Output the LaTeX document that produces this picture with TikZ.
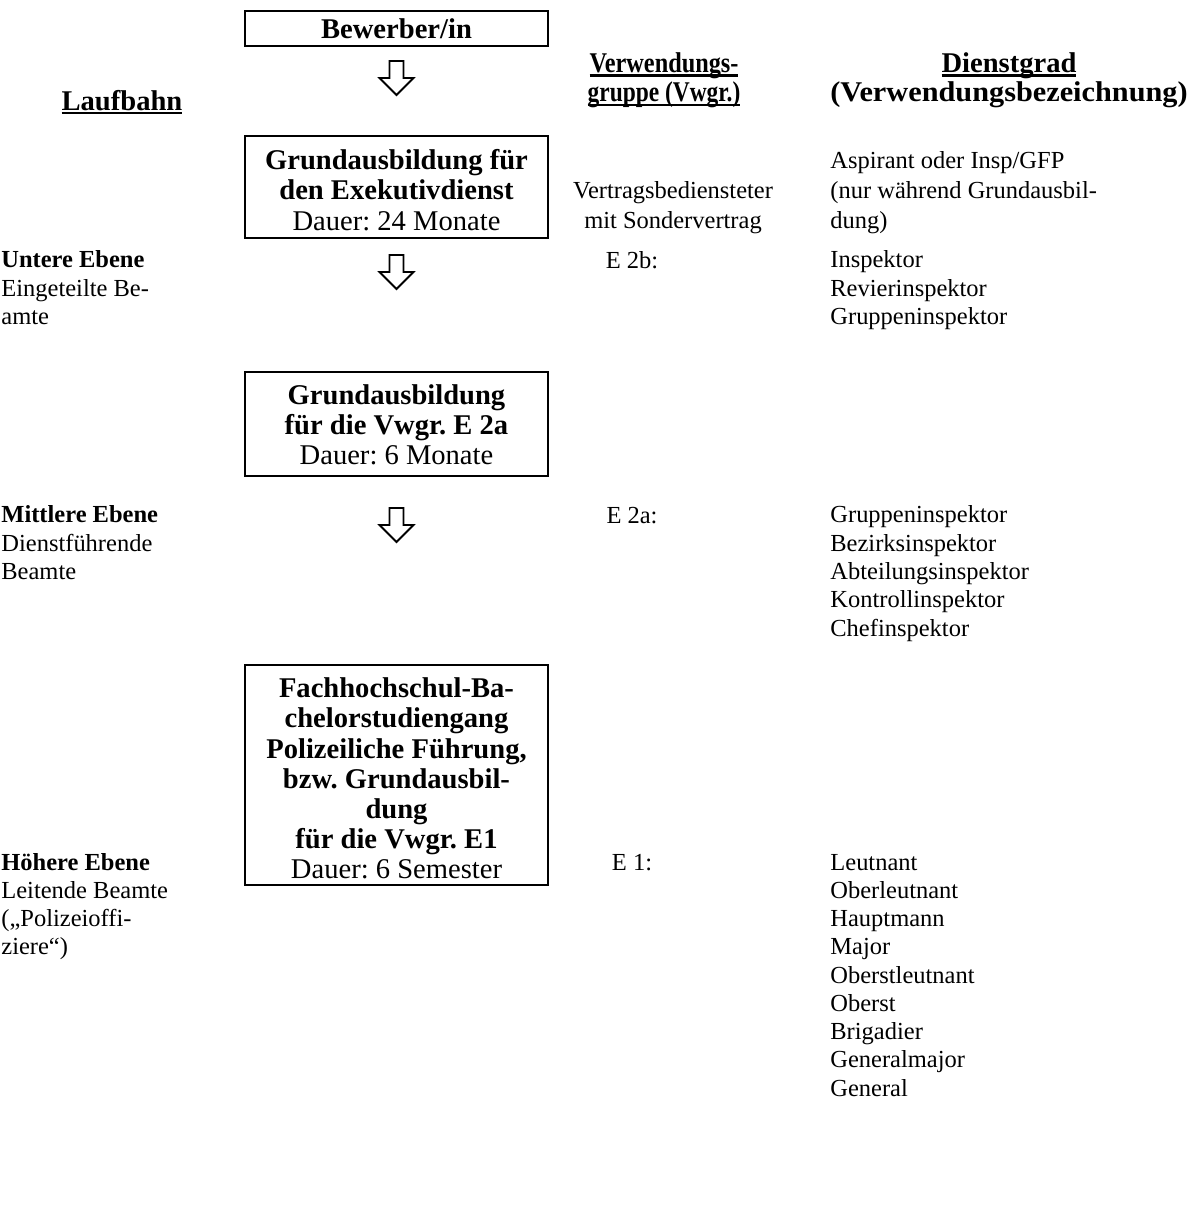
\documentclass[tikz,border=0pt]{standalone}
\usepackage{fontspec}
\setmainfont{Liberation Serif}
\newsavebox\ulbox
\newcommand\ulx[1]{\sbox\ulbox{#1}\rlap{\rule[-2.2pt]{\wd\ulbox}{1pt}}\usebox\ulbox}
\begin{document}
\frenchspacing
\begin{tikzpicture}[x=0.49pt,y=-0.49pt,
  box/.style={draw,line width=1pt,inner sep=0pt,align=center,minimum width=148.5pt,font=\fontsize{14}{14.8}\selectfont\frenchspacing},
  body/.style={inner sep=0pt,font=\fontsize{12}{13.85}\selectfont\frenchspacing},
  bodyw/.style={inner sep=0pt,font=\fontsize{12}{14.7}\selectfont\frenchspacing},
  hdr/.style={inner sep=0pt,align=center,font=\fontsize{14}{14.5}\selectfont\bfseries},
  blk/.style={draw,line width=0.9pt,line join=miter}]
\useasboundingbox (0,0) rectangle (1191,1224);

% boxes
\node[box,minimum height=17.15pt] (bew) at (396.5,28.5) {\textbf{Bewerber/in}};
\node[box,minimum height=50pt] (ga1) at (396.5,187) {\rule{0pt}{12.9pt}\textbf{Grundausbildung für}\\\textbf{den Exekutivdienst}\\Dauer: 24 Monate};
\node[box,minimum height=51pt] (ga2) at (396.5,424) {\rule{0pt}{10.6pt}\textbf{Grundausbildung}\\\textbf{für die Vwgr. E 2a}\\Dauer: 6 Monate};
\node[box,minimum height=107.8pt] (fh) at (396.5,775) {\rule{0pt}{13.3pt}\textbf{Fachhochschul-Ba-}\\\textbf{chelorstudiengang}\\\textbf{Polizeiliche Führung,}\\\textbf{bzw. Grundausbil-}\\\textbf{dung}\\\textbf{für die Vwgr. E1}\\Dauer: 6 Semester};

% block arrows
\coordinate (a1) at (396.5,61);
\coordinate (a2) at (396.5,255);
\coordinate (a3) at (396.5,508);
\foreach \a in {a1,a2,a3}{
  \draw[blk,shift={(\a)}] (-7,0) -- (7,0) -- (7,17) -- (17,17) -- (0,34) -- (-17,17) -- (-7,17) -- cycle;
}

% headers (anchor base = baseline of last line)
\node[hdr,anchor=base] (lauf) at (122,110) {\ulx{Laufbahn}};
\node[hdr,anchor=base] (vwgr) at (664,101.6) {\ulx{\addfontfeature{FakeStretch=0.85}Verwendungs-}\\\ulx{\addfontfeature{FakeStretch=0.82}gruppe (Vwgr.)}};
\node[hdr,anchor=base] (dgr) at (1009,101.6) {\ulx{Dienstgrad}\\{\addfontfeature{FakeStretch=1.06}(Verwendungsbezeichnung)}};

% left column
\node[body,anchor=base west,align=left] (untere) at (1,324.5) {\textbf{Untere Ebene}\\Eingeteilte Be-\\amte};
\node[body,anchor=base west,align=left] (mittlere) at (1,579.5) {\textbf{Mittlere Ebene}\\Dienstführende\\Beamte};
\node[body,anchor=base west,align=left] (hoehere) at (1,954.8) {\textbf{Höhere Ebene}\\Leitende Beamte\\(„Polizeioffi-\\ziere“)};

% Vwgr column
\node[bodyw,anchor=base,align=center] (vb) at (673,228) {Vertragsbediensteter\\mit Sondervertrag};
\node[body,anchor=base] (e2b) at (632,268) {E 2b:};
\node[body,anchor=base] (e2a) at (632,523) {E 2a:};
\node[body,anchor=base] (e1) at (632,870) {E 1:};

% Dienstgrad column
\node[bodyw,anchor=base west,align=left] (asp) at (830,228) {Aspirant oder Insp/GFP\\(nur während Grundausbil-\\dung)};
\node[body,anchor=base west,align=left] (d2b) at (830,324.5) {Inspektor\\Revierinspektor\\Gruppeninspektor};
\node[body,anchor=base west,align=left] (d2a) at (830,636) {Gruppeninspektor\\Bezirksinspektor\\Abteilungsinspektor\\Kontrollinspektor\\Chefinspektor};
\node[body,anchor=base west,align=left] (d1) at (830,1096.2) {Leutnant\\Oberleutnant\\Hauptmann\\Major\\Oberstleutnant\\Oberst\\Brigadier\\Generalmajor\\General};
\end{tikzpicture}
\end{document}
